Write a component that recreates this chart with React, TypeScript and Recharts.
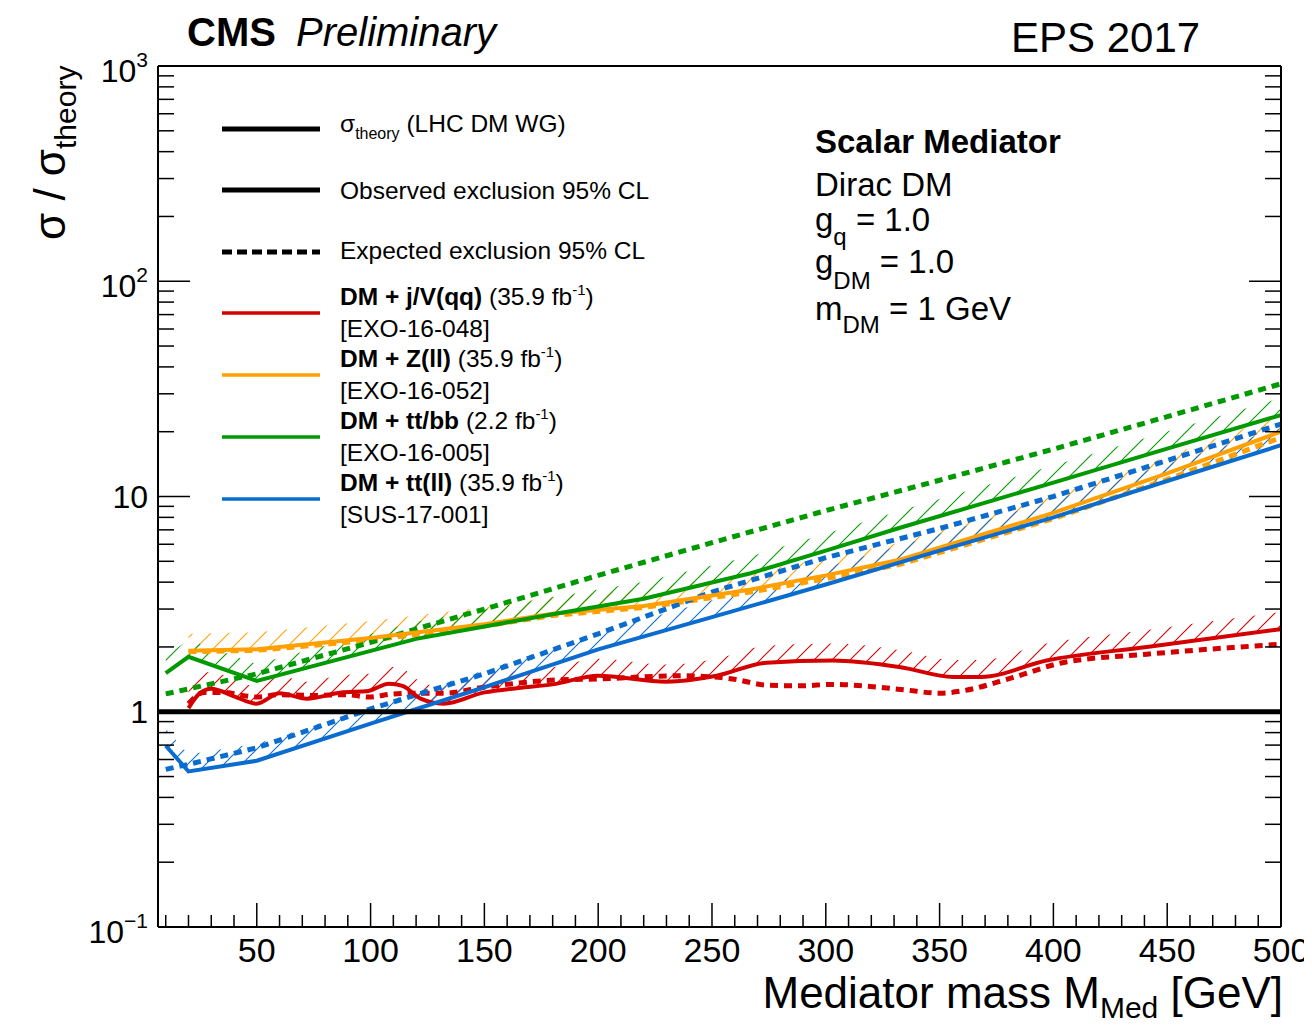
import React from 'react';
import { ComposedChart, Line, Area, XAxis, YAxis, ReferenceLine } from 'recharts';

const FONT = '"Liberation Sans", Arial, Helvetica, sans-serif';

// mediator mass [GeV] and sigma / sigma_theory
const redObsX = [20, 25, 30, 40, 50, 60, 72, 87, 99, 108, 114, 122, 132, 150, 165, 180, 200, 230, 252, 274, 303, 333, 356, 368, 397, 441, 500];
const redObsY = [1.04, 1.22, 1.28, 1.18, 1.09, 1.22, 1.15, 1.23, 1.25, 1.35, 1.32, 1.15, 1.09, 1.23, 1.29, 1.34, 1.47, 1.38, 1.47, 1.69, 1.73, 1.61, 1.45, 1.45, 1.73, 2.0, 2.42];
const redExpX = [20, 27, 35, 50, 60, 75, 90, 99, 110, 120, 132, 150, 179, 200, 237, 259, 274, 289, 303, 333, 350, 360, 382, 404, 441, 500];
const redExpY = [1.09, 1.23, 1.23, 1.17, 1.2, 1.19, 1.2, 1.17, 1.21, 1.22, 1.22, 1.3, 1.4, 1.42, 1.47, 1.42, 1.33, 1.32, 1.34, 1.27, 1.22, 1.25, 1.44, 1.69, 1.85, 2.06];

const orangeX = [20, 50, 100, 150, 180, 220, 267, 300, 333, 400, 450, 500];
const orangeObsY = [1.92, 1.95, 2.2, 2.55, 2.85, 3.1, 3.7, 4.3, 5.1, 8.4, 12.8, 20.0];
const orangeExpY = [1.9, 1.93, 2.15, 2.5, 2.8, 3.05, 3.6, 4.15, 4.85, 7.9, 12.0, 18.8];

const greenObsX = [10, 20, 50, 120, 180, 220, 267, 300, 333, 400, 450, 500];
const greenObsY = [1.51, 1.8, 1.39, 2.18, 2.84, 3.35, 4.4, 5.6, 7.18, 11.6, 16.7, 23.9];
const greenExpX = [10, 50, 100, 150, 200, 250, 300, 350, 400, 450, 500];
const greenExpY = [1.21, 1.5, 2.1, 3.0, 4.3, 6.1, 8.6, 11.9, 16.6, 23.5, 33.4];

const blueX = [10, 20, 50, 100, 150, 200, 250, 300, 350, 400, 450, 500];
const blueObsY = [0.695, 0.528, 0.592, 0.88, 1.3, 1.95, 2.75, 3.9, 5.6, 8.0, 11.8, 17.3];
const blueExpY = [0.54, 0.57, 0.68, 1.03, 1.5, 2.3, 3.6, 5.2, 7.1, 10.0, 14.7, 21.7];

const yMajor = [0.1, 1, 10, 100, 1000];
const yMajorBase = ['10', '1', '10', '10', '10'];
const yMajorExp = ['\u22121', '', '', '2', '3'];

const RED = '#d40000';
const ORANGE = '#ffa000';
const GREEN = '#009a00';
const BLUE = '#0a6ccf';

const W = 1304;
const H = 1019;
const LEFT = 150;
const RIGHT = 1273;
const TOP = 58;
const BOTTOM = 919;

const xTicks = Array.from({ length: 50 }, (_, i) => (i + 1) * 10);
const yTicks: number[] = [];
[0.1, 1, 10, 100].forEach(d => {
  for (let k = 1; k <= 9; k++) yTicks.push(d * k);
});
yTicks.push(1000);

const pts = (xs: number[], ys: number[]) => xs.map((x, i) => ({ x, y: ys[i] }));
const band = (xs: number[], ys: number[]) => xs.map((x, i) => ({ x, band: [ys[i], ys[i] * 1.2] }));

const series = [
  { id: 'red', color: RED, obs: pts(redObsX, redObsY), exp: pts(redExpX, redExpY), hatch: band(redObsX, redObsY), curve: 'monotone' },
  { id: 'orange', color: ORANGE, obs: pts(orangeX, orangeObsY), exp: pts(orangeX, orangeExpY), hatch: band(orangeX, orangeObsY), curve: 'linear' },
  { id: 'green', color: GREEN, obs: pts(greenObsX, greenObsY), exp: pts(greenExpX, greenExpY), hatch: band(greenObsX, greenObsY), curve: 'linear' },
  { id: 'blue', color: BLUE, obs: pts(blueX, blueObsY), exp: pts(blueX, blueExpY), hatch: band(blueX, blueObsY), curve: 'linear' },
];

const isMajorY = (v: number) => Math.abs(Math.log10(v) - Math.round(Math.log10(v))) < 1e-6;

function BottomTick(props: any) {
  const { x, payload } = props;
  const major = payload.value % 50 === 0;
  return (
    <g>
      <line x1={x} x2={x} y1={BOTTOM} y2={BOTTOM - (major ? 24 : 12)} stroke="#000" strokeWidth={1.5} />
      {major && (
        <text x={x} y={954} textAnchor="middle" fontSize={34} fontFamily={FONT} fill="#000">
          {payload.value}
        </text>
      )}
    </g>
  );
}

function TopTick(props: any) {
  const { x, payload } = props;
  const major = payload.value % 50 === 0;
  return <line x1={x} x2={x} y1={TOP} y2={TOP + (major ? 24 : 12)} stroke="#000" strokeWidth={1.5} />;
}

function LeftTick(props: any) {
  const { y, payload } = props;
  const v = payload.value;
  const major = isMajorY(v);
  const idx = yMajor.findIndex(m => Math.abs(m - v) / m < 1e-6);
  const hasExp = idx >= 0 && yMajorExp[idx] !== '';
  return (
    <g>
      <line x1={LEFT} x2={LEFT + (major ? 32 : 16)} y1={y} y2={y} stroke="#000" strokeWidth={1.5} />
      {idx >= 0 && (
        <text x={140} y={y + (hasExp ? 16 : 11)} textAnchor="end" fontSize={32} fontFamily={FONT} fill="#000">
          {yMajorBase[idx]}
          {hasExp && (
            <tspan fontSize={21} dy={-15}>
              {yMajorExp[idx]}
            </tspan>
          )}
        </text>
      )}
    </g>
  );
}

function RightTick(props: any) {
  const { y, payload } = props;
  const major = isMajorY(payload.value);
  return <line x1={RIGHT} x2={RIGHT - (major ? 32 : 16)} y1={y} y2={y} stroke="#000" strokeWidth={1.5} />;
}

const legendRows = [
  { color: RED, bold: 'DM + j/V(qq)', lumi: '35.9', ref: '[EXO-16-048]' },
  { color: ORANGE, bold: 'DM + Z(ll)', lumi: '35.9', ref: '[EXO-16-052]' },
  { color: GREEN, bold: 'DM + tt/bb', lumi: '2.2', ref: '[EXO-16-005]' },
  { color: BLUE, bold: 'DM + tt(ll)', lumi: '35.9', ref: '[SUS-17-001]' },
];

// hatch patterns for the excluded side of each observed limit
function HatchDefs() {
  return (
    <svg width={1} height={1} style={{ position: 'absolute', left: 0, top: 0 }}>
      <defs>
        {series.map(s => (
          <pattern key={s.id} id={`hatch-${s.id}`} width={18} height={18} patternUnits="userSpaceOnUse">
            <line x1={0} y1={18} x2={18} y2={0} style={{ stroke: s.color, strokeWidth: 1.1 }} />
            <line x1={-4} y1={4} x2={4} y2={-4} style={{ stroke: s.color, strokeWidth: 1.1 }} />
            <line x1={14} y1={22} x2={22} y2={14} style={{ stroke: s.color, strokeWidth: 1.1 }} />
          </pattern>
        ))}
      </defs>
    </svg>
  );
}

function Overlay() {
  return (
    <svg width={W} height={H} style={{ position: 'absolute', left: 0, top: 0, pointerEvents: 'none' }} fontFamily={FONT}>
      <text x={179} y={38} fontSize={40} fontWeight="bold">CMS</text>
      <text x={288} y={38} fontSize={40} fontStyle="italic">Preliminary</text>
      <text x={1003} y={44} fontSize={42}>EPS 2017</text>

      <text transform="translate(57,232) rotate(-90)" fontSize={44}>
        σ / σ<tspan fontSize={30} dy={11}>theory</tspan>
      </text>
      <text x={1275} y={1000} textAnchor="end" fontSize={44}>
        Mediator mass M<tspan fontSize={30} dy={10}>Med</tspan>
        <tspan dy={-10}> [GeV]</tspan>
      </text>

      {/* legend */}
      <line x1={214} x2={312} y1={121} y2={121} stroke="#000" strokeWidth={5} />
      <text x={332} y={124} fontSize={24.5}>
        σ<tspan fontSize={16} dy={7}>theory</tspan>
        <tspan dy={-7}> (LHC DM WG)</tspan>
      </text>
      <line x1={214} x2={312} y1={182} y2={182} stroke="#000" strokeWidth={5} />
      <text x={332} y={191} fontSize={24.5}>Observed exclusion 95% CL</text>
      <line x1={214} x2={312} y1={244} y2={244} stroke="#000" strokeWidth={5} strokeDasharray="10 5" />
      <text x={332} y={251} fontSize={24.5}>Expected exclusion 95% CL</text>
      {legendRows.map((r, i) => {
        const y0 = 297 + i * 62;
        return (
          <g key={r.ref}>
            <line x1={214} x2={312} y1={y0 + 8} y2={y0 + 8} stroke={r.color} strokeWidth={3.5} />
            <text x={332} y={y0} fontSize={24.5}>
              <tspan fontWeight="bold">{r.bold}</tspan> ({r.lumi} fb<tspan fontSize={15} dy={-10}>-1</tspan>
              <tspan dy={10}>)</tspan>
            </text>
            <text x={332} y={y0 + 32} fontSize={24.5}>{r.ref}</text>
          </g>
        );
      })}

      {/* model parameters */}
      <text x={807} y={145} fontSize={33} fontWeight="bold">Scalar Mediator</text>
      <text x={807} y={188} fontSize={33}>Dirac DM</text>
      <text x={807} y={223} fontSize={33}>
        g<tspan fontSize={24} dy={14}>q</tspan>
        <tspan dy={-14}> = 1.0</tspan>
      </text>
      <text x={807} y={265} fontSize={33}>
        g<tspan fontSize={24} dy={16}>DM</tspan>
        <tspan dy={-16}> = 1.0</tspan>
      </text>
      <text x={807} y={312} fontSize={33}>
        m<tspan fontSize={24} dy={13}>DM</tspan>
        <tspan dy={-13}> = 1 GeV</tspan>
      </text>
    </svg>
  );
}

export default function App() {
  return (
    <div style={{ position: 'relative', width: W, height: H, fontFamily: FONT }}>
      <HatchDefs />
      <ComposedChart width={W} height={H} margin={{ top: 0, right: 0, bottom: 0, left: 0 }}>
        <XAxis
          dataKey="x"
          type="number"
          domain={[6.6, 500]}
          allowDataOverflow
          ticks={xTicks}
          interval={0}
          height={100}
          tickLine={false}
          axisLine={{ stroke: '#000', strokeWidth: 2 }}
          tick={(p: any) => <BottomTick {...p} />}
        />
        <XAxis
          xAxisId="top"
          orientation="top"
          type="number"
          domain={[6.6, 500]}
          allowDataOverflow
          ticks={xTicks}
          interval={0}
          height={58}
          tickLine={false}
          axisLine={{ stroke: '#000', strokeWidth: 2 }}
          tick={(p: any) => <TopTick {...p} />}
        />
        <YAxis
          type="number"
          scale="log"
          domain={[0.1, 1000]}
          allowDataOverflow
          ticks={yTicks}
          interval={0}
          width={150}
          tickLine={false}
          axisLine={{ stroke: '#000', strokeWidth: 2 }}
          tick={(p: any) => <LeftTick {...p} />}
        />
        <YAxis
          yAxisId="right"
          orientation="right"
          type="number"
          scale="log"
          domain={[0.1, 1000]}
          allowDataOverflow
          ticks={yTicks}
          interval={0}
          width={31}
          tickLine={false}
          axisLine={{ stroke: '#000', strokeWidth: 2 }}
          tick={(p: any) => <RightTick {...p} />}
        />

        {series.map(s => (
          <Area
            key={`band-${s.id}`}
            data={s.hatch}
            dataKey="band"
            type={s.curve as any}
            stroke="none"
            fill={`url(#hatch-${s.id})`}
            fillOpacity={1}
            isAnimationActive={false}
            activeDot={false}
          />
        ))}
        {series.map(s => (
          <Line
            key={`exp-${s.id}`}
            data={s.exp}
            dataKey="y"
            type={s.curve as any}
            stroke={s.color}
            strokeWidth={5}
            strokeDasharray="8 6"
            dot={false}
            activeDot={false}
            isAnimationActive={false}
          />
        ))}
        {series.map(s => (
          <Line
            key={`obs-${s.id}`}
            data={s.obs}
            dataKey="y"
            type={s.curve as any}
            stroke={s.color}
            strokeWidth={4}
            dot={false}
            activeDot={false}
            isAnimationActive={false}
          />
        ))}
        <ReferenceLine y={1} stroke="#000" strokeWidth={5} />
      </ComposedChart>
      <Overlay />
    </div>
  );
}
